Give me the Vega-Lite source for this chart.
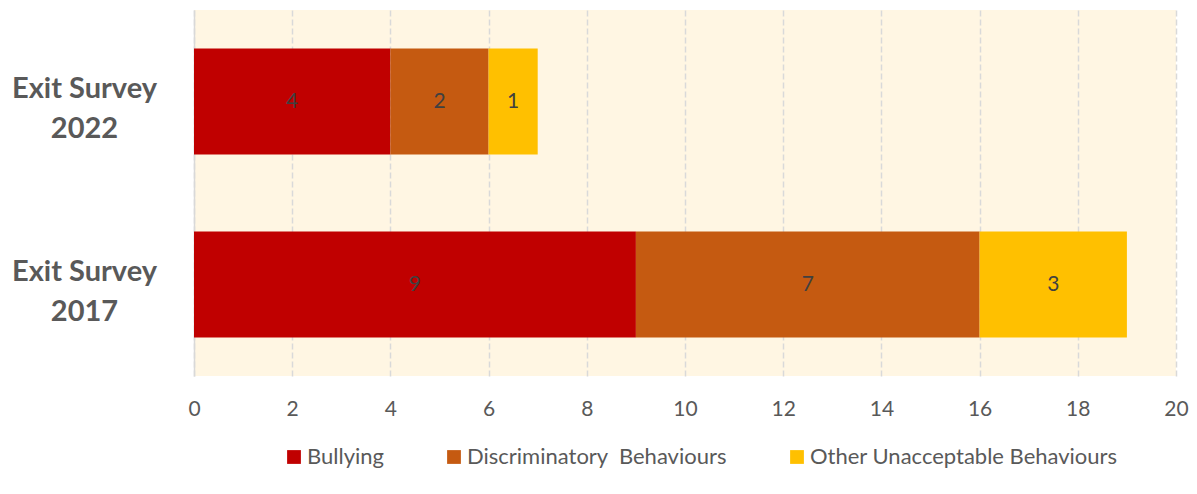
{
  "$schema": "https://vega.github.io/schema/vega-lite/v6.json",
  "width": 982,
  "height": 366,
  "autosize": {"type": "none"},
  "padding": {"left": 194, "top": 10, "right": 21, "bottom": 118},
  "background": "#FFFFFF",
  "config": {
    "font": "Lato",
    "view": {"fill": "#FFF6E3", "stroke": null}
  },
  "data": {
    "values": [
      {"survey": "Exit Survey 2022", "category": "Bullying", "value": 4, "order": 1},
      {"survey": "Exit Survey 2022", "category": "Discriminatory\u00a0 Behaviours", "value": 2, "order": 2},
      {"survey": "Exit Survey 2022", "category": "Other Unacceptable Behaviours", "value": 1, "order": 3},
      {"survey": "Exit Survey 2017", "category": "Bullying", "value": 9, "order": 1},
      {"survey": "Exit Survey 2017", "category": "Discriminatory\u00a0 Behaviours", "value": 7, "order": 2},
      {"survey": "Exit Survey 2017", "category": "Other Unacceptable Behaviours", "value": 3, "order": 3}
    ]
  },
  "encoding": {
    "y": {
      "field": "survey",
      "type": "nominal",
      "sort": ["Exit Survey 2022", "Exit Survey 2017"],
      "scale": {"paddingInner": 0.42, "paddingOuter": 0.21},
      "axis": {
        "title": null,
        "ticks": false,
        "domain": true,
        "domainColor": "#D9D9D9",
        "domainWidth": 1.5,
        "labelAlign": "center",
        "labelBaseline": "middle",
        "labelPadding": 110,
        "labelOffset": -13,
        "labelFontSize": 29,
        "labelFontWeight": "bold",
        "labelColor": "#595959",
        "labelLineHeight": 40,
        "labelExpr": "[slice(datum.label, 0, 11), slice(datum.label, 12)]"
      }
    },
    "x": {
      "field": "value",
      "type": "quantitative",
      "stack": "zero",
      "scale": {"domain": [0, 20], "nice": false},
      "axis": {
        "title": null,
        "values": [0, 2, 4, 6, 8, 10, 12, 14, 16, 18, 20],
        "ticks": false,
        "domain": false,
        "labelFlush": false,
        "labelPadding": 22,
        "labelFontSize": 21,
        "labelColor": "#595959",
        "grid": true,
        "gridColor": "#D9D9D9",
        "gridWidth": 1.5,
        "gridDash": [6, 3]
      }
    },
    "order": {"field": "order", "type": "quantitative"}
  },
  "layer": [
    {
      "mark": {"type": "bar"},
      "encoding": {
        "color": {
          "field": "category",
          "type": "nominal",
          "sort": ["Bullying", "Discriminatory\u00a0 Behaviours", "Other Unacceptable Behaviours"],
          "scale": {
            "domain": ["Bullying", "Discriminatory\u00a0 Behaviours", "Other Unacceptable Behaviours"],
            "range": ["#C00000", "#C55A11", "#FFC000"]
          },
          "legend": {
            "title": null,
            "orient": "none",
            "direction": "horizontal",
            "legendX": 89,
            "legendY": 436,
            "symbolType": "square",
            "symbolSize": 190,
            "symbolStrokeWidth": 0,
            "symbolOpacity": 1,
            "labelFontSize": 22,
            "labelColor": "#595959",
            "labelOffset": 2,
            "columnPadding": 59,
            "labelLimit": 400
          }
        }
      }
    },
    {
      "mark": {"type": "text", "fontSize": 21, "color": "#404040"},
      "encoding": {
        "x": {"field": "value", "type": "quantitative", "stack": "zero", "bandPosition": 0.5},
        "text": {"field": "value", "type": "quantitative"}
      }
    }
  ]
}
